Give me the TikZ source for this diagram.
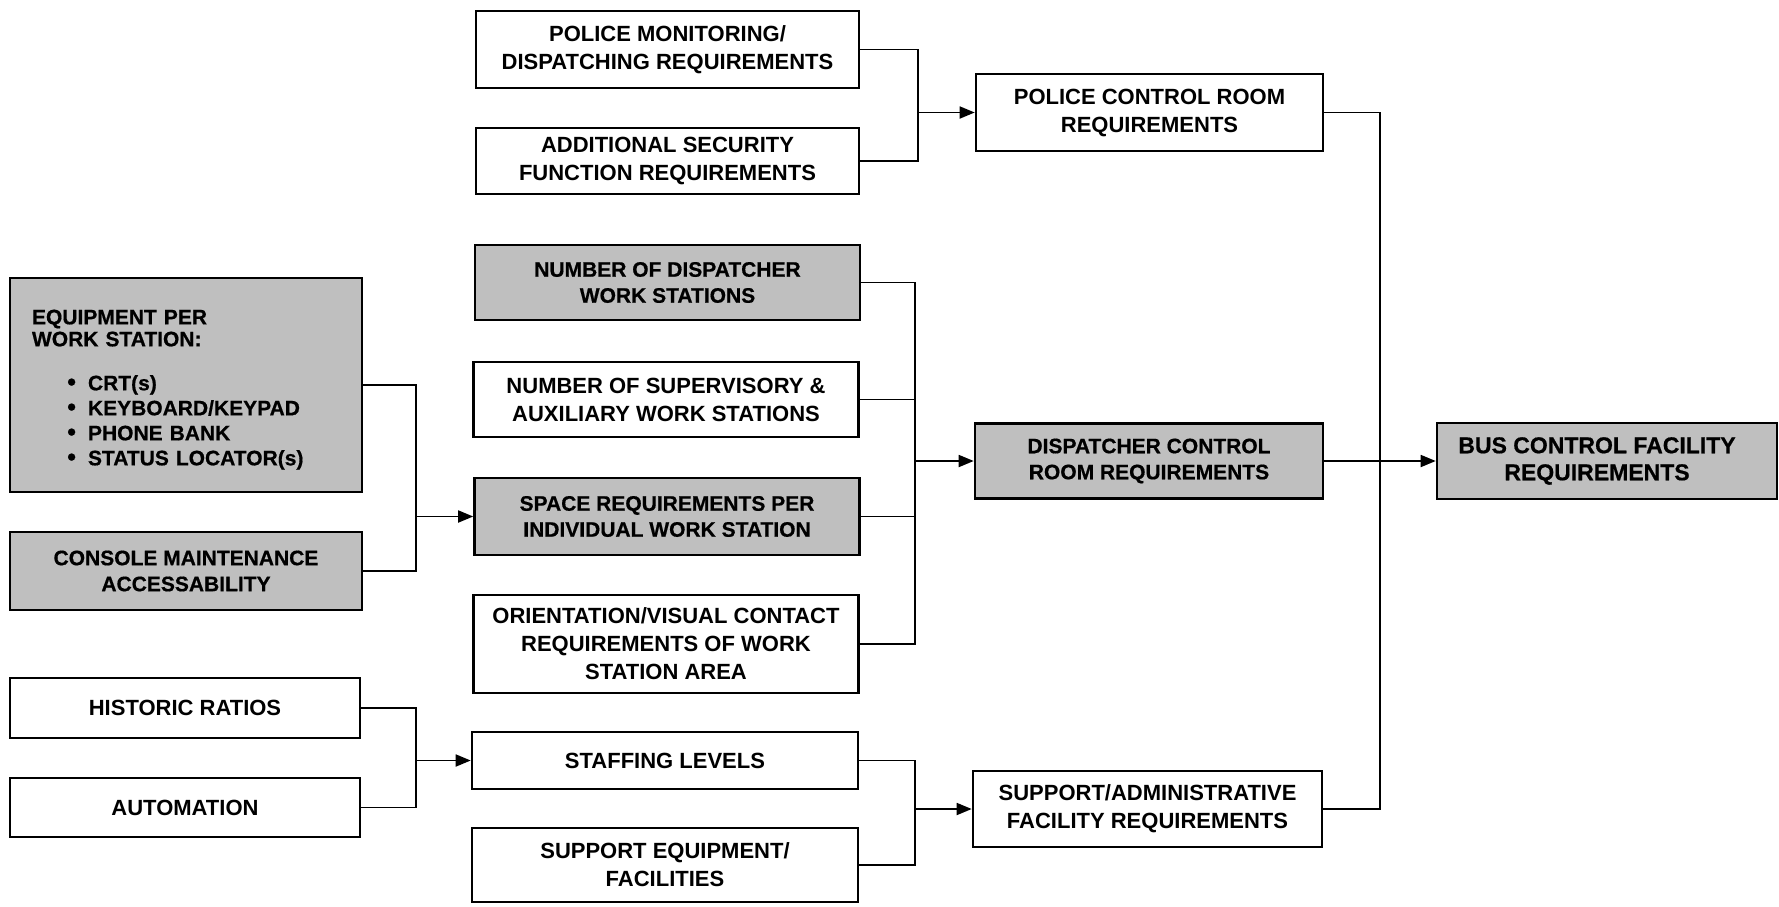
\documentclass[tikz,border=0pt]{standalone}
\usepackage{fontspec}
\setmainfont{Liberation Sans}
\newfontfamily\heavyfont{Liberation Sans}[BoldFeatures={FakeBold=0.6}]
\usetikzlibrary{arrows.meta}
\newcommand{\eqbul}{\makebox[28pt][r]{{\fontsize{12.5}{12}\selectfont\textbullet}\hspace{6pt}}}
\begin{document}
\begin{tikzpicture}[x=0.5pt,y=-0.5pt,
  box/.style={draw=black, line width=1.3pt, inner sep=0pt, align=center},
  wbox/.style={box, fill=white, font=\fontsize{11}{14}\selectfont\bfseries},
  gbox/.style={box, fill=black!25, font=\fontsize{10.5}{13}\selectfont\heavyfont\bfseries},
  conn/.style={line width=0.9pt},
  arr/.style={conn, -{Triangle[length=7.5pt,width=6pt]}}]
\useasboundingbox (0,0) rectangle (1779,906);

% column 2
\node[wbox, minimum width=191.5pt, minimum height=38.5pt] (pmon) at (667.5,49.5) {POLICE MONITORING/\\DISPATCHING REQUIREMENTS};
\node[wbox, minimum width=191.5pt, minimum height=33pt] (addsec) at (667.5,161) {ADDITIONAL SECURITY\\FUNCTION REQUIREMENTS};
\node[gbox, minimum width=192.5pt, minimum height=37.5pt] (ndisp) at (667.5,282.5) {NUMBER OF DISPATCHER\\WORK STATIONS};
\node[wbox, minimum width=192.5pt, minimum height=37.5pt] (nsup) at (666,399.5) {NUMBER OF SUPERVISORY \&\\AUXILIARY WORK STATIONS};
\node[gbox, minimum width=192.5pt, minimum height=38.5pt] (space) at (667,516.5) {SPACE REQUIREMENTS PER\\INDIVIDUAL WORK STATION};
\node[wbox, minimum width=192.5pt, minimum height=49pt] (orient) at (666,644) {ORIENTATION/VISUAL CONTACT\\REQUIREMENTS OF WORK\\STATION AREA};
\node[wbox, minimum width=193pt, minimum height=28.5pt] (staff) at (665,760.5) {STAFFING LEVELS};
\node[wbox, minimum width=193pt, minimum height=37pt] (suppeq) at (665,865) {SUPPORT EQUIPMENT/\\FACILITIES};

% column 1
\node[gbox, minimum width=176pt, minimum height=107pt, text width=154pt, align=left] (equip) at (186,385)
  {\rule{0pt}{12pt}EQUIPMENT PER\\[-2pt]WORK STATION:\\[9pt]
   \eqbul CRT(s)\\[-0.5pt]
   \eqbul KEYBOARD/KEYPAD\\[-0.5pt]
   \eqbul PHONE BANK\\[-0.5pt]
   \eqbul STATUS LOCATOR(s)};
\node[gbox, minimum width=176pt, minimum height=39pt] (console) at (186,571) {CONSOLE MAINTENANCE\\ACCESSABILITY};
\node[wbox, minimum width=175pt, minimum height=30pt] (hist) at (185,708) {HISTORIC RATIOS};
\node[wbox, minimum width=175pt, minimum height=29.5pt] (auto) at (185,807.5) {AUTOMATION};

% column 3
\node[wbox, minimum width=173.5pt, minimum height=38.5pt] (proom) at (1149.5,112.5) {POLICE CONTROL ROOM\\REQUIREMENTS};
\node[gbox, minimum width=174pt, minimum height=37.5pt] (disp) at (1149,461) {DISPATCHER CONTROL\\ROOM REQUIREMENTS};
\node[wbox, minimum width=174.5pt, minimum height=38pt] (sadmin) at (1147.5,809) {SUPPORT/ADMINISTRATIVE\\FACILITY REQUIREMENTS};

% column 4
\node[gbox, minimum width=170pt, minimum height=38pt, font=\fontsize{11.5}{13.5}\selectfont\heavyfont\bfseries] (bus) at (1607,461)
  {BUS CONTROL FACILITY\rule{10pt}{0pt}\\REQUIREMENTS\rule{10pt}{0pt}};

% connectors
\coordinate (j1) at (416,516.5);
\draw[conn] (equip.east) -| (j1) |- (console.east);
\draw[arr] (j1) -- (space.west);

\coordinate (j2) at (918,112.5);
\draw[conn] (pmon.east) -| (j2) |- (addsec.east);
\draw[arr] (j2) -- (proom.west);

\coordinate (j3) at (915,461);
\draw[conn] (ndisp.east) -| (j3) |- (orient.east);
\draw[conn] (nsup.east) -- (nsup.east -| j3);
\draw[conn] (space.east) -- (space.east -| j3);
\draw[arr] (j3) -- (disp.west);

\coordinate (j4) at (416,760.5);
\draw[conn] (hist.east) -| (j4) |- (auto.east);
\draw[arr] (j4) -- (staff.west);

\coordinate (j5) at (915,809);
\draw[conn] (staff.east) -| (j5) |- (suppeq.east);
\draw[arr] (j5) -- (sadmin.west);

\coordinate (j6) at (1380,461);
\draw[conn] (proom.east) -| (j6) |- (sadmin.east);
\draw[conn] (disp.east) -- (j6);
\draw[arr] (j6) -- (bus.west);
\end{tikzpicture}
\end{document}
